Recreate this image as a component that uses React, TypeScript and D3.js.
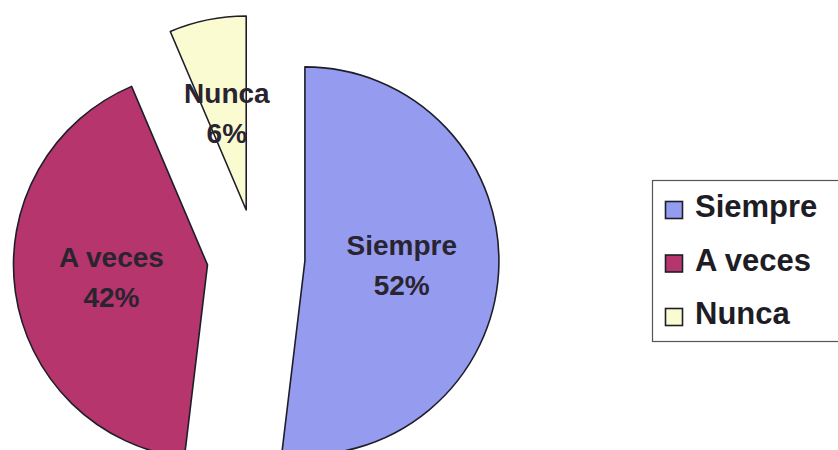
import { useMemo } from 'react'
import * as d3 from 'd3'

// Exploded pie: share of answers (labels show rounded percentages)
const LABELS = ['Siempre', 'A veces', 'Nunca']
const VALUES = [51.9, 41.7, 6.4]
const COLORS = ['#959cef', '#b5356c', '#fbfbd2']

const WIDTH = 838
const HEIGHT = 450
const FONT = 'Liberation Sans, Arial, sans-serif'

export default function App() {
  const cx = 256
  const cy = 258
  const radius = 194
  const explode = 49

  const slices = useMemo(() => {
    const pie = d3.pie<number>().sort(null).value(d => d)
    return pie(VALUES)
  }, [])

  const arc = d3.arc<d3.PieArcDatum<number>>().innerRadius(0).outerRadius(radius)

  return (
    <svg
      width={WIDTH}
      height={HEIGHT}
      style={{ position: 'absolute', left: 0, top: 0, display: 'block', background: '#fff' }}
    >
      {slices.map((s, i) => {
        const mid = (s.startAngle + s.endAngle) / 2
        const dx = Math.sin(mid) * explode
        const dy = -Math.cos(mid) * explode
        const [lx, ly] = arc.centroid(s)
        return (
          <g key={LABELS[i]} transform={`translate(${cx + dx},${cy + dy})`}>
            <path d={arc(s) || ''} fill={COLORS[i]} stroke="#1e1e2a" strokeWidth={1.6} strokeLinejoin="round" />
            <g fontFamily={FONT} fontWeight="bold" fontSize={28} fill="#2a2430" textAnchor="middle">
              <text x={lx} y={ly - 12}>{LABELS[i]}</text>
              <text x={lx} y={ly + 28}>{`${Math.round(VALUES[i])}%`}</text>
            </g>
          </g>
        )
      })}

      {/* legend */}
      <g>
        <rect x={652.5} y={180.5} width={200} height={161} fill="#fff" stroke="#555" strokeWidth={1.2} />
        {LABELS.map((l, i) => {
          const y = 217 + i * 53.5
          return (
            <g key={l}>
              <rect x={665.5} y={y - 15.5} width={17} height={17} fill={COLORS[i]} stroke="#1e1e2a" strokeWidth={1.6} />
              <text x={695} y={y} fontFamily={FONT} fontWeight="bold" fontSize={31} fill="#1e1c24">
                {l}
              </text>
            </g>
          )
        })}
      </g>
    </svg>
  )
}
